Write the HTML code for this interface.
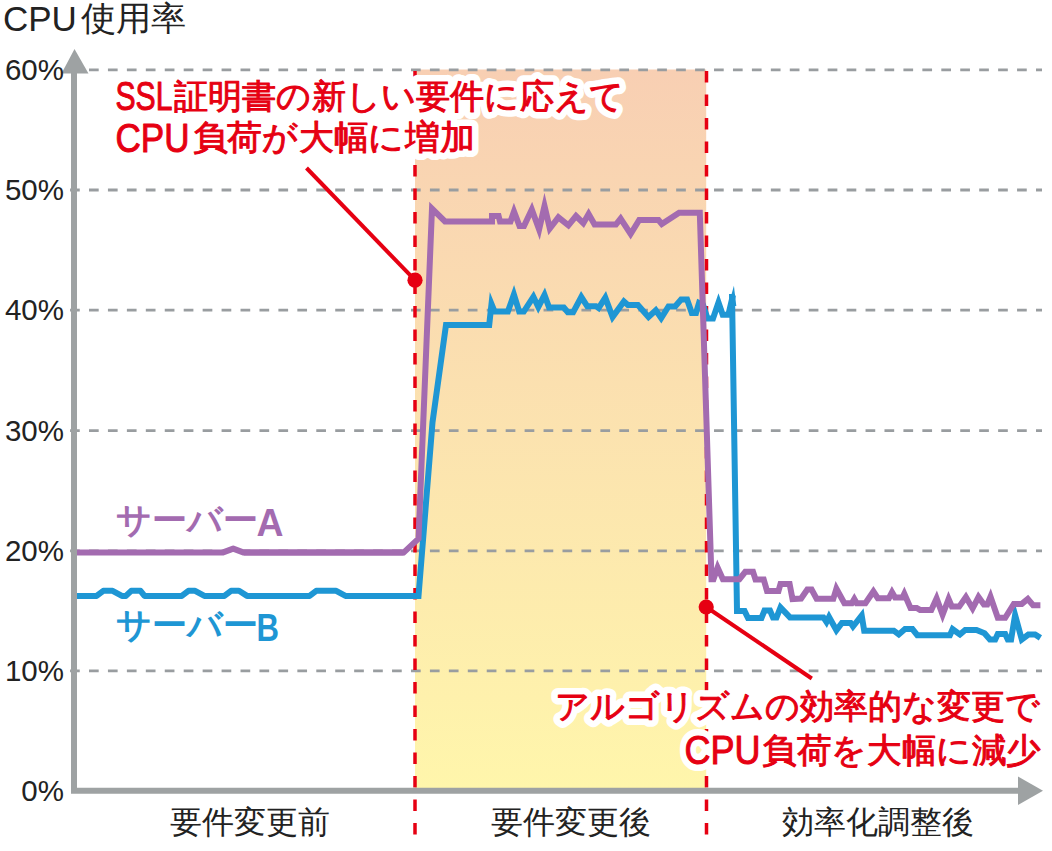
<!DOCTYPE html>
<html><head><meta charset="utf-8"><style>
html,body{margin:0;padding:0;background:#fff;width:1052px;height:851px;overflow:hidden}
svg{display:block}
</style></head><body>
<svg width="1052" height="851" viewBox="0 0 1052 851">
<defs><linearGradient id="sh" x1="0" y1="0" x2="0" y2="1"><stop offset="0" stop-color="#f8cfb3"/><stop offset="1" stop-color="#fff6ab"/></linearGradient></defs>
<rect x="415" y="69.5" width="291.2" height="720" fill="url(#sh)"/>
<line x1="70.06" y1="69.8" x2="1042" y2="69.8" stroke="#999da0" stroke-width="2.8" stroke-dasharray="9.7 9.24"/>
<line x1="70.06" y1="190" x2="1042" y2="190" stroke="#999da0" stroke-width="2.8" stroke-dasharray="9.7 9.24"/>
<line x1="70.06" y1="310.2" x2="1042" y2="310.2" stroke="#999da0" stroke-width="2.8" stroke-dasharray="9.7 9.24"/>
<line x1="70.06" y1="430.6" x2="1042" y2="430.6" stroke="#999da0" stroke-width="2.8" stroke-dasharray="9.7 9.24"/>
<line x1="70.06" y1="550.8" x2="1042" y2="550.8" stroke="#999da0" stroke-width="2.8" stroke-dasharray="9.7 9.24"/>
<line x1="70.06" y1="670.8" x2="1042" y2="670.8" stroke="#999da0" stroke-width="2.8" stroke-dasharray="9.7 9.24"/>
<line x1="415" y1="71" x2="415" y2="836" stroke="#e60012" stroke-width="3.5" stroke-dasharray="11.5 12"/>
<line x1="706.5" y1="71" x2="706.5" y2="836" stroke="#e60012" stroke-width="3.5" stroke-dasharray="11.5 12"/>
<path d="M74 73 V790.8 H1018" fill="none" stroke="#9ea2a3" stroke-width="6" stroke-linejoin="miter"/>
<path d="M74.5 49 L88.5 73.5 L61.5 73.5 Z" fill="#9ea2a3"/>
<path d="M1043 790.8 L1018 776.6 L1018 805 Z" fill="#9ea2a3"/>
<polyline points="77.0,595.9 96.6,595.9 103.3,590.8 112.6,590.8 121.9,595.9 125.9,595.9 131.2,590.8 140.5,590.8 144.5,595.9 181.8,595.9 188.4,590.8 195.1,590.8 204.4,595.9 224.4,595.9 231.0,590.8 239.0,590.8 247.0,595.9 309.6,595.9 316.2,590.8 336.2,590.8 345.5,595.9 418.5,596.0" fill="none" stroke="#1e96d4" stroke-width="6" stroke-linejoin="round"/>
<polyline points="345.5,595.9 418.5,596.0 432.5,422.3 446.0,324.9 489.2,324.9 491.5,304.0 494.6,311.6 507.9,311.6 513.9,294.6 519.2,311.6 523.8,311.6 533.4,296.8 538.3,307.0 544.5,295.0 549.1,307.6 563.8,307.6 567.8,312.3 573.1,312.3 581.3,297.0 587.3,306.3 596.0,306.3 598.6,308.0 605.3,297.6 612.6,317.0 623.9,301.5 627.9,305.0 637.9,305.0 648.5,317.0 655.8,310.3 661.2,318.0 668.5,306.5 675.1,306.5 681.1,299.6 687.1,299.6 691.8,313.0 696.0,313.0 699.0,303.0 703.0,305.0 707.5,318.5 713.0,318.5 718.5,302.5 722.7,314.7 728.4,314.7 733.0,295.0" fill="none" stroke="#1e96d4" stroke-width="6" stroke-linejoin="miter" stroke-miterlimit="8"/>
<polyline points="732.0,294.0 737.0,611.1 744.6,611.1 748.0,618.0 761.5,618.0 764.5,610.6 770.0,610.6 773.0,617.5 776.5,617.5 780.5,607.5 790.0,617.4 823.4,617.4 826.5,622.0 829.0,617.0 836.4,630.3 841.9,622.9 850.6,622.9 853.0,626.5 861.7,615.5 864.2,630.7 893.8,630.7 898.8,634.5 905.0,629.1 912.4,629.1 917.3,635.2 949.9,635.2 952.6,629.2 959.9,634.5 965.2,629.9 976.5,629.9 984.5,633.2 989.9,639.5 995.2,639.5 997.8,633.9 1005.2,633.9 1007.8,639.5 1011.1,639.5 1015.1,615.0 1021.8,639.5 1028.4,634.5 1035.1,634.5 1040.4,637.9" fill="none" stroke="#1e96d4" stroke-width="6" stroke-linejoin="miter" stroke-miterlimit="8"/>
<polygon points="728.3,306 733.9,285.8 736.3,306" fill="#1e96d4"/>
<polyline points="77.0,552.6 222.5,552.6 233.2,548.6 243.8,552.6 403.6,552.6" fill="none" stroke="#a36bb0" stroke-width="6" stroke-linejoin="round"/>
<polyline points="243.8,552.6 403.6,552.6 418.5,538.6 432.0,208.6 445.0,221.5 492.0,221.5 492.0,216.0 498.6,216.0 500.0,221.5 510.5,221.5 514.0,211.5 519.5,226.0 524.0,226.0 531.8,209.5 539.1,229.5 544.5,206.0 549.8,228.5 558.4,217.3 568.4,225.3 576.0,216.0 583.3,223.2 588.6,214.0 594.6,224.6 615.9,224.6 620.6,218.7 630.6,234.0 639.2,220.0 658.5,220.0 661.8,224.0 679.1,212.8 699.8,212.8 711.5,579.2 713.5,579.2 717.6,567.6 722.9,579.2 739.4,579.2 745.3,571.8 753.0,571.8 755.5,579.5 763.7,579.5 767.0,590.9 778.5,590.9 780.5,584.0 789.6,584.0 792.5,599.0 801.1,598.5 807.3,589.6 811.6,589.6 816.6,598.8 833.3,598.8 836.4,588.7 844.4,603.2 851.8,603.2 854.3,599.0 856.7,603.2 865.4,603.2 873.4,591.5 877.8,598.2 888.9,598.2 892.0,592.2 895.1,597.6 902.5,597.6 904.3,593.8 910.5,608.0 916.7,608.0 920.0,609.9 931.3,609.9 936.6,598.4 942.6,614.7 948.6,599.0 951.9,606.6 959.2,606.6 965.9,597.0 972.6,608.4 978.5,597.0 983.9,604.6 987.2,604.6 990.5,596.7 997.8,617.8 1005.2,617.8 1013.8,603.9 1021.8,603.9 1027.8,599.0 1033.1,605.2 1040.4,605.2" fill="none" stroke="#a36bb0" stroke-width="6" stroke-linejoin="miter" stroke-miterlimit="8"/>
<line x1="306.5" y1="168" x2="415" y2="280.2" stroke="#e60012" stroke-width="4"/>
<circle cx="415" cy="280.2" r="7.6" fill="#e60012"/>
<line x1="706.2" y1="607" x2="811.8" y2="678.5" stroke="#e60012" stroke-width="4"/>
<circle cx="706.2" cy="607" r="7.6" fill="#e60012"/>
<text x="3" y="30.5" font-family='"Liberation Sans", sans-serif' font-size="35" fill="#222" text-anchor="start" font-weight="normal" letter-spacing="0">CPU</text>
<text x="80.5" y="30" font-family='"Liberation Sans", sans-serif' font-size="34" fill="#222" textLength="105.5" lengthAdjust="spacingAndGlyphs">使用率</text>
<text x="64" y="79.8" font-family='"Liberation Sans", sans-serif' font-size="29.5" fill="#222" text-anchor="end" font-weight="normal" letter-spacing="0">60%</text>
<text x="64" y="200" font-family='"Liberation Sans", sans-serif' font-size="29.5" fill="#222" text-anchor="end" font-weight="normal" letter-spacing="0">50%</text>
<text x="64" y="320.2" font-family='"Liberation Sans", sans-serif' font-size="29.5" fill="#222" text-anchor="end" font-weight="normal" letter-spacing="0">40%</text>
<text x="64" y="440.6" font-family='"Liberation Sans", sans-serif' font-size="29.5" fill="#222" text-anchor="end" font-weight="normal" letter-spacing="0">30%</text>
<text x="64" y="560.8" font-family='"Liberation Sans", sans-serif' font-size="29.5" fill="#222" text-anchor="end" font-weight="normal" letter-spacing="0">20%</text>
<text x="64" y="680.8" font-family='"Liberation Sans", sans-serif' font-size="29.5" fill="#222" text-anchor="end" font-weight="normal" letter-spacing="0">10%</text>
<text x="64" y="800.8" font-family='"Liberation Sans", sans-serif' font-size="29.5" fill="#222" text-anchor="end" font-weight="normal" letter-spacing="0">0%</text>
<text x="115.5" y="110.1" font-family='"Liberation Sans", sans-serif' font-size="40" textLength="57" lengthAdjust="spacingAndGlyphs" fill="#fff" stroke="#fff" stroke-width="14" stroke-linejoin="round">SSL</text>
<text x="174" y="107.8" font-family='"Liberation Sans", sans-serif' font-size="33.8" textLength="450" lengthAdjust="spacingAndGlyphs" fill="#fff" stroke="#fff" stroke-width="14" stroke-linejoin="round">証明書の新しい要件に応えて</text>
<text x="115.5" y="151.6" font-family='"Liberation Sans", sans-serif' font-size="40" textLength="74" lengthAdjust="spacingAndGlyphs" fill="#fff" stroke="#fff" stroke-width="14" stroke-linejoin="round">CPU</text>
<text x="192.5" y="149.1" font-family='"Liberation Sans", sans-serif' font-size="33.8" textLength="282" lengthAdjust="spacingAndGlyphs" fill="#fff" stroke="#fff" stroke-width="14" stroke-linejoin="round">負荷が大幅に増加</text>
<text x="555" y="718.3" font-family='"Liberation Sans", sans-serif' font-size="33.8" textLength="485.5" lengthAdjust="spacingAndGlyphs" fill="#fff" stroke="#fff" stroke-width="14" stroke-linejoin="round">アルゴリズムの効率的な変更で</text>
<text x="684.5" y="764" font-family='"Liberation Sans", sans-serif' font-size="40" textLength="76" lengthAdjust="spacingAndGlyphs" fill="#fff" stroke="#fff" stroke-width="14" stroke-linejoin="round">CPU</text>
<text x="762" y="761.9" font-family='"Liberation Sans", sans-serif' font-size="33.8" textLength="279" lengthAdjust="spacingAndGlyphs" fill="#fff" stroke="#fff" stroke-width="14" stroke-linejoin="round">負荷を大幅に減少</text>
<text x="115.5" y="110.1" font-family='"Liberation Sans", sans-serif' font-size="40" textLength="57" lengthAdjust="spacingAndGlyphs" fill="#e60012" stroke="#e60012" stroke-width="1.0" stroke-linejoin="round">SSL</text>
<text x="174" y="107.8" font-family='"Liberation Sans", sans-serif' font-size="33.8" textLength="450" lengthAdjust="spacingAndGlyphs" fill="#e60012" stroke="#e60012" stroke-width="1.0" stroke-linejoin="round">証明書の新しい要件に応えて</text>
<text x="115.5" y="151.6" font-family='"Liberation Sans", sans-serif' font-size="40" textLength="74" lengthAdjust="spacingAndGlyphs" fill="#e60012" stroke="#e60012" stroke-width="1.0" stroke-linejoin="round">CPU</text>
<text x="192.5" y="149.1" font-family='"Liberation Sans", sans-serif' font-size="33.8" textLength="282" lengthAdjust="spacingAndGlyphs" fill="#e60012" stroke="#e60012" stroke-width="1.0" stroke-linejoin="round">負荷が大幅に増加</text>
<text x="555" y="718.3" font-family='"Liberation Sans", sans-serif' font-size="33.8" textLength="485.5" lengthAdjust="spacingAndGlyphs" fill="#e60012" stroke="#e60012" stroke-width="1.0" stroke-linejoin="round">アルゴリズムの効率的な変更で</text>
<text x="684.5" y="764" font-family='"Liberation Sans", sans-serif' font-size="40" textLength="76" lengthAdjust="spacingAndGlyphs" fill="#e60012" stroke="#e60012" stroke-width="1.0" stroke-linejoin="round">CPU</text>
<text x="762" y="761.9" font-family='"Liberation Sans", sans-serif' font-size="33.8" textLength="279" lengthAdjust="spacingAndGlyphs" fill="#e60012" stroke="#e60012" stroke-width="1.0" stroke-linejoin="round">負荷を大幅に減少</text>
<text x="116" y="532.3" font-family='"Liberation Sans", sans-serif' font-size="35" fill="#a36bb0" text-anchor="start" font-weight="bold" letter-spacing="0">サーバー</text>
<text x="256.5" y="536.4" font-family='"Liberation Sans", sans-serif' font-size="39" font-weight="bold" fill="#a36bb0" textLength="27" lengthAdjust="spacingAndGlyphs">A</text>
<text x="116" y="637.3" font-family='"Liberation Sans", sans-serif' font-size="35" fill="#1e96d4" text-anchor="start" font-weight="bold" letter-spacing="0">サーバー</text>
<text x="256.5" y="640.8" font-family='"Liberation Sans", sans-serif' font-size="39" font-weight="bold" fill="#1e96d4" textLength="22.5" lengthAdjust="spacingAndGlyphs">B</text>
<text x="250" y="833" font-family='"Liberation Sans", sans-serif' font-size="32" fill="#222" text-anchor="middle" font-weight="normal" letter-spacing="0">要件変更前</text>
<text x="571" y="833" font-family='"Liberation Sans", sans-serif' font-size="32" fill="#222" text-anchor="middle" font-weight="normal" letter-spacing="0">要件変更後</text>
<text x="878" y="833" font-family='"Liberation Sans", sans-serif' font-size="32" fill="#222" text-anchor="middle" font-weight="normal" letter-spacing="0">効率化調整後</text>
</svg>
</body></html>
